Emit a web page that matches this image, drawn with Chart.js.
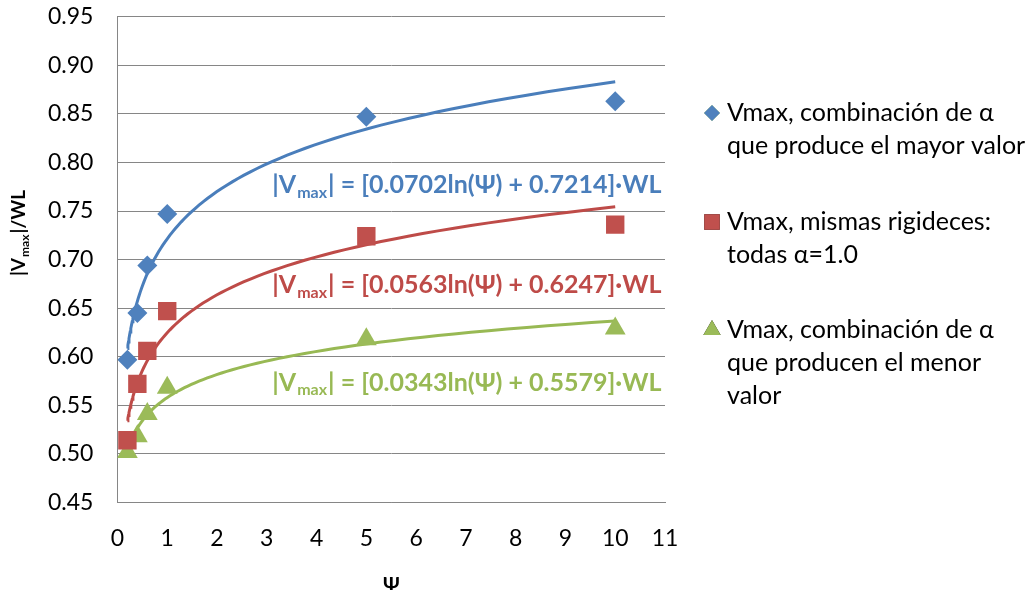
<!DOCTYPE html>
<html>
<head>
<meta charset="utf-8">
<script src="https://cdn.jsdelivr.net/npm/chart.js@4.4.1/dist/chart.umd.min.js"></script>
<style>
  html, body { margin: 0; padding: 0; background: #fff; }
  #wrap { width: 1026px; height: 590px; }
</style>
</head>
<body>
<div id="wrap"><canvas id="vmaxChart"></canvas></div>
<script>
// Psi values (x)
var psi = [0.2, 0.4, 0.6, 1, 5, 10];

// |Vmax|/WL
var vMayor = [0.597, 0.645, 0.694, 0.747, 0.847, 0.863];
var vIgual = [0.514, 0.572, 0.606, 0.647, 0.724, 0.736];
var vMenor = [0.502, 0.518, 0.541, 0.568, 0.618, 0.629];

// log trendline coefficients, y = a*ln(psi) + b (from the equations on the chart)
var coefA = [0.0702, 0.0563, 0.0343];
var coefB = [0.7214, 0.6247, 0.5579];

var legendLines = [
  ["Vmax, combinación de α", "que produce el mayor valor"],
  ["Vmax, mismas rigideces:", "todas α=1.0"],
  ["Vmax, combinación de α", "que producen el menor", "valor"]
];
var eqTexts = [
  "| = [0.0702ln(Ψ) + 0.7214]·WL",
  "| = [0.0563ln(Ψ) + 0.6247]·WL",
  "| = [0.0343ln(Ψ) + 0.5579]·WL"
];

var markerColors = ["#4f81bd", "#c0504d", "#9bbb59"];
var lineColors = ["#4a7ebb", "#be4b48", "#98b954"];
var FONT = "Lato, sans-serif";

function toPts(xs, ys) {
  var out = [];
  for (var i = 0; i < xs.length; i++) out.push({x: xs[i], y: ys[i]});
  return out;
}

// trendline from psi[0] to last psi, following the equation on the chart
function trend(k) {
  var out = [];
  var x0 = psi[0], x1 = psi[psi.length - 1];
  for (var i = 0; i <= 80; i++) {
    var x = x0 * Math.pow(x1 / x0, i / 80);
    out.push({x: x, y: coefA[k] * Math.log(x) + coefB[k]});
  }
  return out;
}

var series = [vMayor, vIgual, vMenor];
var styles = ['rectRot', 'rect', 'triangle'];
var radii = [10, 13, 12];
var datasets = [];
for (var k = 0; k < 3; k++) {
  datasets.push({
    label: legendLines[k].join(' '),
    data: toPts(psi, series[k]),
    pointStyle: styles[k],
    pointRadius: radii[k],
    pointHoverRadius: radii[k],
    backgroundColor: markerColors[k],
    borderColor: markerColors[k],
    borderWidth: 0,
    showLine: false,
    order: 0
  });
}
for (var k = 0; k < 3; k++) {
  datasets.push({
    label: 'trend' + k,
    data: trend(k),
    showLine: true,
    pointRadius: 0,
    borderColor: lineColors[k],
    borderWidth: 3,
    fill: false,
    order: 1
  });
}

// draws "|V" + subscript "max" + rest
function drawSubText(ctx, rest, x, y, size, align, color) {
  var big = "bold " + size + "px " + FONT;
  var small = "bold " + Math.round(size * 0.62) + "px " + FONT;
  ctx.font = big; var w1 = ctx.measureText("|V").width;
  ctx.font = small; var w2 = ctx.measureText("max").width;
  ctx.font = big; var w3 = ctx.measureText(rest).width;
  var total = w1 + w2 + w3;
  var sx = align === 'center' ? x - total / 2 : (align === 'right' ? x - total : x);
  ctx.fillStyle = color;
  ctx.textBaseline = 'middle';
  ctx.textAlign = 'left';
  ctx.font = big; ctx.fillText("|V", sx, y);
  ctx.font = small; ctx.fillText("max", sx + w1 + 1, y + size * 0.3);
  ctx.font = big; ctx.fillText(rest, sx + w1 + w2 + 2, y);
}

var extras = {
  id: 'extras',
  afterDraw: function(chart) {
    var ctx = chart.ctx;
    var xs = chart.scales.x, ys = chart.scales.y;
    ctx.save();
    // trendline equations
    var eqY = [0.7765, 0.6735, 0.5735];
    for (var k = 0; k < 3; k++) {
      drawSubText(ctx, eqTexts[k], xs.getPixelForValue(7.0), ys.getPixelForValue(eqY[k]), 25, 'center', lineColors[k]);
    }
    // y axis title, rotated
    ctx.save();
    ctx.translate(19, 234);
    ctx.rotate(-Math.PI / 2);
    drawSubText(ctx, "|/WL", 0, 0, 19, 'center', '#000');
    ctx.restore();
    // legend
    var lx = 712, tx = 727, lh = 33;
    var tops = [113, 222, 330];
    ctx.font = "25px " + FONT;
    ctx.textBaseline = 'middle';
    ctx.textAlign = 'left';
    for (var k = 0; k < 3; k++) {
      Chart.helpers.drawPoint(ctx, {pointStyle: styles[k], radius: k === 0 ? 8 : (k === 1 ? 11 : 10), borderWidth: 0}, lx, tops[k]);
      ctx.fillStyle = markerColors[k];
      ctx.fill();
      ctx.fillStyle = '#000';
      for (var j = 0; j < legendLines[k].length; j++) {
        ctx.fillText(legendLines[k][j], tx, tops[k] + j * lh);
      }
    }
    ctx.restore();
  }
};

var ctx = document.getElementById('vmaxChart').getContext('2d');
var vmaxChart = new Chart(ctx, {
  type: 'scatter',
  data: { datasets: datasets },
  options: {
    responsive: true,
    maintainAspectRatio: false,
    animation: false,
    layout: { autoPadding: false, padding: { left: 45, right: 361, top: 0, bottom: -8 } },
    plugins: { legend: { display: false }, tooltip: { enabled: false } },
    scales: {
      x: {
        type: 'linear', min: 0, max: 11,
        ticks: { stepSize: 1, color: '#000', padding: 22, font: { family: FONT, size: 23 } },
        grid: { display: false, drawTicks: false },
        border: { display: true, color: '#868686', width: 1 },
        title: { display: true, text: 'Ψ', color: '#000', padding: { top: 0, bottom: 0 }, font: { family: FONT, size: 20, weight: 'bold' } }
      },
      y: {
        min: 0.45, max: 0.95,
        ticks: { stepSize: 0.05, color: '#000', padding: 3, font: { family: FONT, size: 23 },
          callback: function(v) { return v.toFixed(2); } },
        // invisible tick marks keep the gap between labels and axis
        grid: { color: '#868686', lineWidth: 1, drawTicks: true, tickLength: 21, tickColor: 'rgba(0,0,0,0)' },
        border: { display: true, color: '#868686', width: 1 }
      }
    }
  },
  plugins: [extras]
});
</script>
</body>
</html>
